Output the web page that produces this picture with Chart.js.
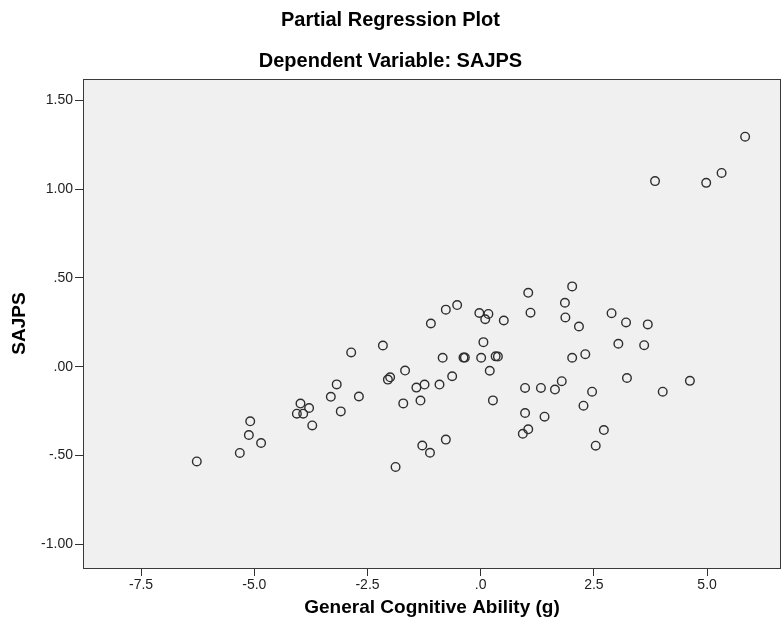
<!DOCTYPE html>
<html>
<head>
<meta charset="utf-8">
<script src="https://cdn.jsdelivr.net/npm/chart.js@4.4.1/dist/chart.umd.min.js"></script>
<style>
  html, body { margin: 0; padding: 0; background: #ffffff; }
  #wrap { width: 783px; height: 629px; }
</style>
</head>
<body>
<div id="wrap"><canvas id="c" width="783" height="629"></canvas></div>
<script>
// Partial regression residuals: General Cognitive Ability (g) vs SAJPS
const gValues = [
  -6.27, -5.32, -5.12, -5.09, -4.85, -4.06, -3.98, -3.92, -3.79, -3.72,
  -3.31, -3.18, -3.09, -2.86, -2.69, -2.16, -2.05, -2.00, -1.67, -1.71,
  -1.88, -1.42, -1.24, -1.33, -1.29, -1.12, -1.10, -0.91, -0.84, -0.77,
  -0.77, -0.63, -0.52, -0.38, -0.35, -0.03, 0.17, 0.10, 0.06, 0.01,
  0.33, 0.38, 0.20, 0.27, 0.51, 1.05, 1.10, 0.98, 0.98, 1.05,
  0.93, 1.33, 1.41, 1.64, 1.79, 2.02, 1.86, 1.87, 2.17, 2.02,
  2.31, 2.46, 2.27, 2.72, 2.54, 2.89, 3.21, 3.69, 3.04, 3.61,
  3.23, 4.02, 4.62, 3.85, 4.98, 5.32, 5.84
];
const sajpsValues = [
  -0.534, -0.486, -0.385, -0.308, -0.430, -0.265, -0.208, -0.265, -0.233, -0.331,
  -0.170, -0.100, -0.252, 0.080, -0.168, 0.119, -0.073, -0.060, -0.022, -0.207,
  -0.565, -0.118, -0.101, -0.191, -0.444, -0.485, 0.243, -0.101, 0.050, 0.321,
  -0.411, -0.054, 0.347, 0.051, 0.051, 0.302, 0.297, 0.267, 0.138, 0.050,
  0.058, 0.057, -0.023, -0.190, 0.260, 0.416, 0.304, -0.120, -0.261, -0.353,
  -0.378, -0.120, -0.282, -0.129, -0.082, 0.452, 0.360, 0.277, 0.226, 0.050,
  0.070, -0.141, -0.220, -0.357, -0.445, 0.301, 0.249, 0.238, 0.129, 0.121,
  -0.064, -0.141, -0.080, 1.045, 1.035, 1.091, 1.295
];
const xTickValues = [-7.5, -5.0, -2.5, 0.0, 2.5, 5.0];
const xTickLabels = ["-7.5", "-5.0", "-2.5", ".0", "2.5", "5.0"];
const yTickValues = [1.5, 1.0, 0.5, 0.0, -0.5, -1.0];
const yTickLabels = ["1.50", "1.00", ".50", ".00", "-.50", "-1.00"];

const titleText = "Partial Regression Plot";
const subtitleText = "Dependent Variable: SAJPS";
const xTitle = "General Cognitive Ability (g)";
const yTitle = "SAJPS";

const points = gValues.map((g, i) => ({ x: g, y: sajpsValues[i] }));

const FONT = 'Liberation Sans, Arial, sans-serif';

const plotBg = {
  id: 'plotBg',
  beforeDraw(chart) {
    const { ctx, chartArea: a } = chart;
    ctx.save();
    ctx.fillStyle = '#ffffff';
    ctx.fillRect(0, 0, chart.width, chart.height);
    ctx.fillStyle = '#f0f0f0';
    ctx.fillRect(a.left, a.top, a.right - a.left, a.bottom - a.top);
    ctx.restore();
  },
  afterDraw(chart) {
    const { ctx, chartArea: a } = chart;
    ctx.save();
    ctx.strokeStyle = '#3a3a3a';
    ctx.lineWidth = 1;
    ctx.strokeRect(Math.round(a.left) + 0.5, Math.round(a.top) + 0.5,
                   Math.round(a.right - a.left) - 1, Math.round(a.bottom - a.top));
    ctx.restore();
  }
};

function labelFor(values, labels, v) {
  const i = values.findIndex(t => Math.abs(t - v) < 1e-9);
  return i >= 0 ? labels[i] : '';
}

new Chart(document.getElementById('c'), {
  type: 'scatter',
  data: {
    datasets: [{
      data: points,
      backgroundColor: 'rgba(0,0,0,0)',
      borderColor: '#2e2e2e',
      borderWidth: 1.4,
      pointRadius: 4.3,
      pointHoverRadius: 4.3
    }]
  },
  options: {
    responsive: false,
    animation: false,
    layout: { autoPadding: false, padding: { left: 0, right: 2, top: 0, bottom: 0 } },
    plugins: {
      legend: { display: false },
      tooltip: { enabled: false },
      title: {
        display: true,
        text: titleText,
        color: '#000',
        font: { family: FONT, size: 20, weight: 'bold' },
        padding: { top: 8, bottom: 5 }
      },
      subtitle: {
        display: true,
        text: subtitleText,
        color: '#000',
        font: { family: FONT, size: 20, weight: 'bold' },
        padding: { top: 12, bottom: 6 }
      }
    },
    scales: {
      x: {
        type: 'linear',
        min: -8.783,
        max: 6.632,
        afterBuildTicks(scale) { scale.ticks = xTickValues.map(v => ({ value: v })); },
        afterFit(scale) { scale.height = 61; },
        border: { display: false },
        grid: { drawOnChartArea: false, drawTicks: true, tickLength: 8, color: '#333' },
        ticks: {
          color: '#222',
          font: { family: FONT, size: 14 },
          padding: 1,
          maxRotation: 0,
          callback: (v) => labelFor(xTickValues, xTickLabels, v)
        },
        title: {
          display: true,
          text: xTitle,
          color: '#000',
          font: { family: FONT, size: 19, weight: 'bold' },
          padding: { top: 0, bottom: 10 }
        }
      },
      y: {
        type: 'linear',
        min: -1.134,
        max: 1.620,
        afterBuildTicks(scale) { scale.ticks = yTickValues.map(v => ({ value: v })); },
        afterFit(scale) { scale.width = 83; },
        border: { display: false },
        grid: { drawOnChartArea: false, drawTicks: true, tickLength: 8, color: '#333' },
        ticks: {
          color: '#222',
          font: { family: FONT, size: 14 },
          padding: 2,
          callback: (v) => labelFor(yTickValues, yTickLabels, v)
        },
        title: {
          display: true,
          text: yTitle,
          color: '#000',
          font: { family: FONT, size: 19, weight: 'bold' },
          padding: { top: 8, bottom: 0 }
        }
      }
    }
  },
  plugins: [plotBg]
});
</script>
</body>
</html>
